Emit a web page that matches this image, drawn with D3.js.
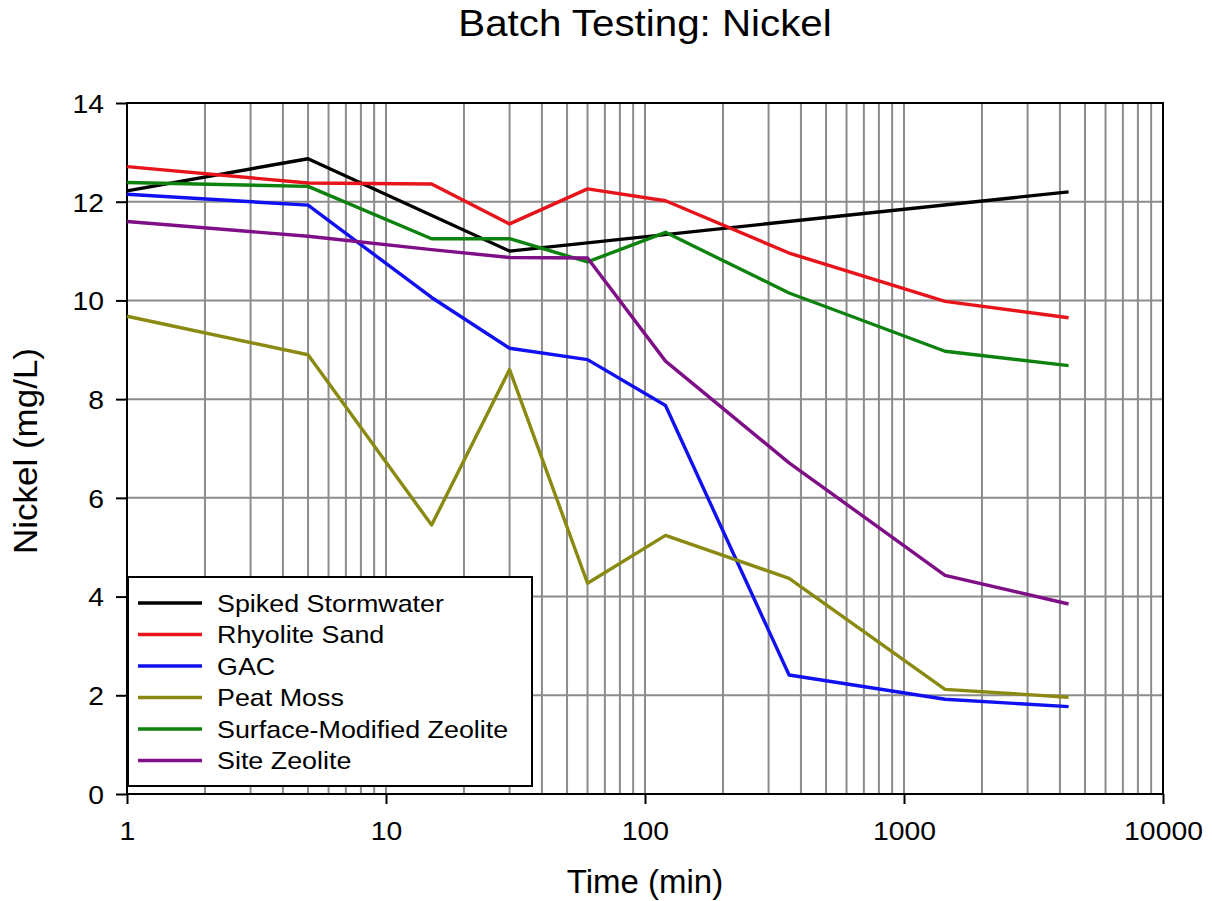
<!DOCTYPE html>
<html><head><meta charset="utf-8">
<script src="https://cdn.jsdelivr.net/npm/d3@7"></script>
<style>body{margin:0;background:#fff}svg{display:block}text{font-family:"Liberation Sans",Arial,sans-serif;fill:#000}</style>
</head><body>
<svg id="c" width="1212" height="901"></svg>
<script>
const times = [1, 5, 15, 30, 60, 120, 360, 1440, 4320];
const stormwaterTimes = [1, 5, 30, 4320];
const spikedStormwater = [12.22, 12.87, 11.0, 12.2];
const rhyoliteSand = [12.71, 12.38, 12.36, 11.55, 12.26, 12.02, 10.96, 9.98, 9.65];
const gac = [12.15, 11.93, 10.06, 9.03, 8.8, 7.87, 2.41, 1.92, 1.77];
const peatMoss = [9.68, 8.9, 5.45, 8.6, 4.27, 5.24, 4.37, 2.12, 1.96];
const surfaceModifiedZeolite = [12.39, 12.31, 11.25, 11.25, 10.78, 11.38, 10.15, 8.97, 8.68];
const siteZeolite = [11.6, 11.3, 11.03, 10.87, 10.86, 8.77, 6.71, 4.43, 3.85];
const seriesNames = ["Spiked Stormwater", "Rhyolite Sand", "GAC", "Peat Moss", "Surface-Modified Zeolite", "Site Zeolite"];
const seriesColors = ["#000000", "#e8141b", "#1010f0", "#8a8a12", "#0e820e", "#7f0f86"];
const xTickLabels = [1, 10, 100, 1000, 10000];
const yTickLabels = [0, 2, 4, 6, 8, 10, 12, 14];

const series = [
  {t: stormwaterTimes, v: spikedStormwater},
  {t: times, v: rhyoliteSand},
  {t: times, v: gac},
  {t: times, v: peatMoss},
  {t: times, v: surfaceModifiedZeolite},
  {t: times, v: siteZeolite}
].map((s, i) => ({name: seriesNames[i], color: seriesColors[i], pts: s.t.map((t, j) => [t, s.v[j]])}));

const L = 127, R = 1163, T = 103, B = 794;
const SX = 1.09;
const svg = d3.select("#c");
const x = d3.scaleLog().domain([1, 10000]).range([L, R]);
const y = d3.scaleLinear().domain([0, 14]).range([B, T]);

// grid
const minor = [];
for (let d = 1; d < 10000; d *= 10) for (let k = 1; k <= 9; k++) minor.push(d * k);
const g = svg.append("g");
g.selectAll("line.v").data(minor.filter(v => v > 1 && v < 10000)).join("line")
  .attr("x1", d => x(d)).attr("x2", d => x(d)).attr("y1", T).attr("y2", B)
  .attr("stroke", "#8c8c8c").attr("stroke-width", 2);
g.selectAll("line.h").data(yTickLabels.filter(v => v > 0 && v < 14)).join("line")
  .attr("x1", L).attr("x2", R).attr("y1", d => y(d)).attr("y2", d => y(d))
  .attr("stroke", "#8c8c8c").attr("stroke-width", 2);

// axes
const xAxis = d3.axisBottom(x).tickValues(xTickLabels).tickFormat(d3.format("d")).tickSize(10).tickPadding(18);
const yAxis = d3.axisLeft(y).tickValues(yTickLabels).tickSize(11).tickPadding(12);
const ax = svg.append("g").attr("transform", `translate(0,${B})`).call(xAxis);
const ay = svg.append("g").attr("transform", `translate(${L},0)`).call(yAxis);
[ax, ay].forEach(a => {
  a.select(".domain").remove();
  a.selectAll(".tick line").attr("stroke", "#000").attr("stroke-width", 2);
  a.selectAll(".tick text").attr("font-size", 26).attr("font-family", '"Liberation Sans",Arial,sans-serif').attr("fill", "#000");
});
ax.selectAll(".tick text").attr("transform", `scale(${SX},1)`);
ay.selectAll(".tick text").attr("dy", "0.36em").attr("x", -23 / SX).attr("transform", `scale(${SX},1)`);

// border
svg.append("rect").attr("x", L).attr("y", T).attr("width", R - L).attr("height", B - T)
  .attr("fill", "none").attr("stroke", "#000").attr("stroke-width", 2);

// lines
const line = d3.line().x(d => x(d[0])).y(d => y(d[1]));
svg.append("g").selectAll("path").data(series).join("path")
  .attr("d", d => line(d.pts)).attr("fill", "none").attr("stroke", d => d.color)
  .attr("stroke-width", 3.4).attr("stroke-linejoin", "round");

// legend
const lg = svg.append("g");
lg.append("rect").attr("x", 128).attr("y", 577).attr("width", 404).attr("height", 209)
  .attr("fill", "#fff").attr("stroke", "#000").attr("stroke-width", 2);
const rows = lg.selectAll("g").data(series).join("g")
  .attr("transform", (d, i) => `translate(0,${603 + i * 31.5})`);
rows.append("line").attr("x1", 138).attr("x2", 202).attr("y1", 0).attr("y2", 0)
  .attr("stroke", d => d.color).attr("stroke-width", 3.4);
rows.append("text").attr("transform", `translate(217,0) scale(1.12,1)`).attr("dy", "0.36em").attr("font-size", 24).text(d => d.name);

// titles
svg.append("text").attr("transform", `translate(645,36) scale(${SX},1)`).attr("text-anchor", "middle").attr("font-size", 37).text("Batch Testing: Nickel");
svg.append("text").attr("transform", `translate(645,893) scale(1.0,1)`).attr("text-anchor", "middle").attr("font-size", 33).text("Time (min)");
svg.append("text").attr("transform", "translate(37,451) rotate(-90) scale(1.06,1)").attr("text-anchor", "middle").attr("font-size", 33).text("Nickel (mg/L)");
</script>
</body></html>
